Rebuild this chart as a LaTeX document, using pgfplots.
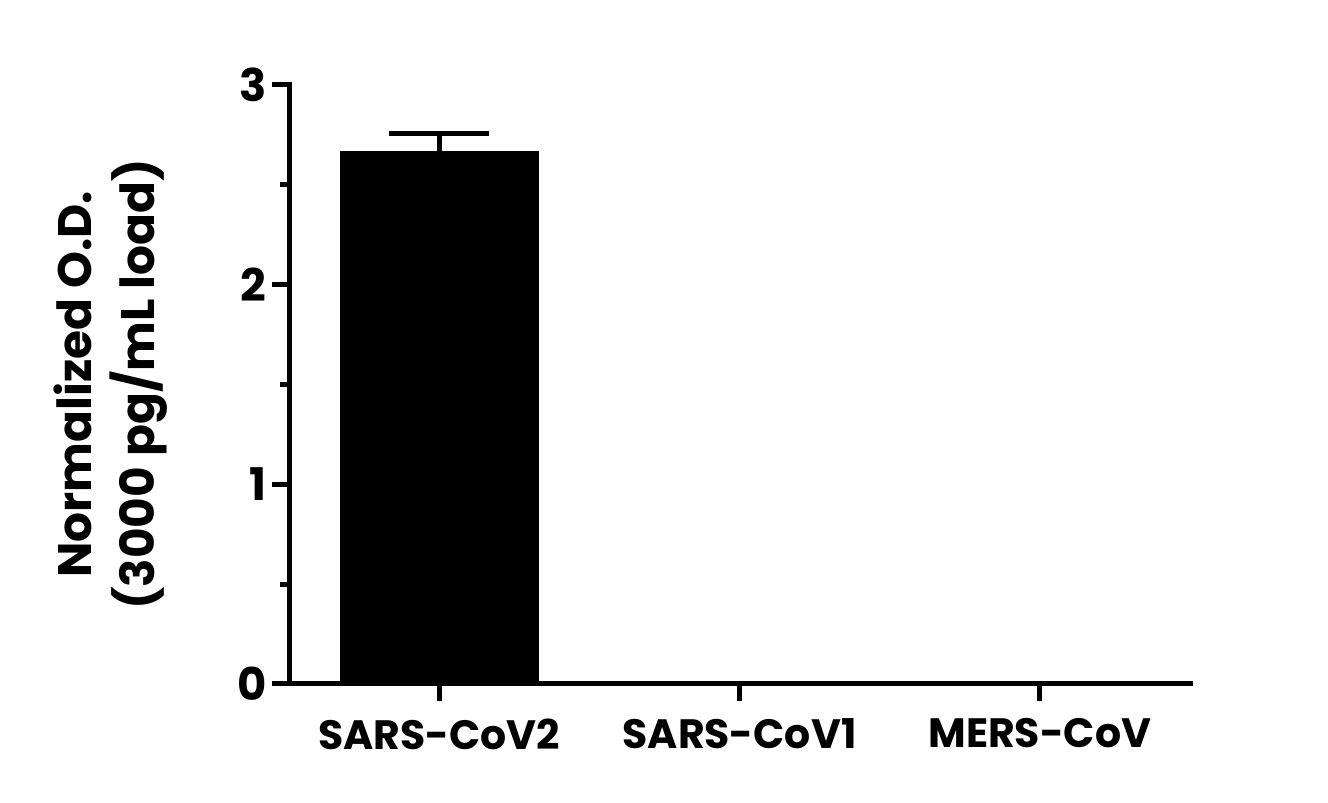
\documentclass[border=0pt]{standalone}
\usepackage{fontspec}
\setmainfont{Poppins}
\usepackage{pgfplots}
\pgfplotsset{compat=1.18}
\begin{document}
\begin{tikzpicture}[x=1pt,y=1pt]
\path[use as bounding box] (0,0) rectangle (1328,803);
\begin{axis}[
  at={(289pt,119pt)}, anchor=south west,
  scale only axis, width=901pt, height=599pt,
  axis lines*=left, axis line style={line width=5pt, line cap=rect},
  xmin=-0.5, xmax=2.5, ymin=0, ymax=3,
  xtick={0,1,2}, xticklabels={SARS-CoV2,SARS-CoV1,MERS-CoV},
  ytick={0,1,2,3}, minor ytick={0.5,1.5,2.5},
  tick style={line width=5pt, black},
  major tick length=17pt, minor tick length=9pt,
  tick align=outside,
  ticklabel style={font=\fontsize{41}{44}\selectfont\bfseries},
  yticklabel style={font=\fontsize{45}{48}\selectfont\bfseries, xshift=-2pt},
  /pgf/number format/assume math mode=true,
  xticklabel style={yshift=-14pt},
  ylabel={Normalized O.D.\\(3000 pg/mL load)},
  every axis y label/.style={at={(ticklabel cs:0.5)}, rotate=90, anchor=south,
    inner sep=0pt, yshift=66pt, font=\fontsize{47}{63}\selectfont\bfseries, align=center},
  clip=false,
]
\addplot[ybar, bar width=198pt, fill=black, draw=black, line width=0pt,
  error bars/.cd, y dir=plus, y explicit,
  error bar style={line width=5pt, black},
  error mark options={rotate=90, mark size=50pt, line width=5pt}]
  coordinates {(0,2.665) +- (0,0.09) (1,0) +- (0,0) (2,0) +- (0,0)};
\end{axis}
\end{tikzpicture}
\end{document}
